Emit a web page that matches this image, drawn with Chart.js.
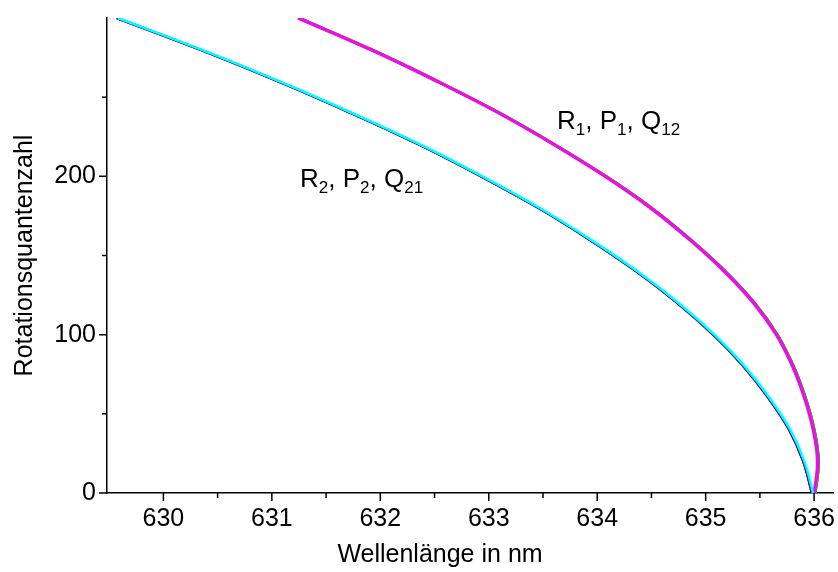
<!DOCTYPE html>
<html>
<head>
<meta charset="utf-8">
<script src="https://cdn.jsdelivr.net/npm/chart.js@4.4.1/dist/chart.umd.min.js"></script>
<style>
  html, body { margin: 0; padding: 0; background: #ffffff; }
  #wrap { width: 838px; height: 572px; position: relative; }
</style>
</head>
<body>
<div id="wrap"><canvas id="chart"></canvas></div>
<script>
// Rotational quantum number J at which line positions are listed
const rotJ = [0, 20, 40, 60, 80, 100, 120, 140, 160, 180, 200, 220, 240, 260, 280, 300];

// Wavelengths in nm, branch group 2 (R2, P2, Q21)
const lambdaR2  = [635.98, 635.90, 635.77, 635.58, 635.35, 635.07, 634.74, 634.36, 633.93, 633.46, 632.93, 632.36, 631.73, 631.06, 630.34, 629.57];
const lambdaP2  = [635.98, 635.90, 635.77, 635.58, 635.35, 635.07, 634.74, 634.36, 633.93, 633.46, 632.93, 632.36, 631.73, 631.06, 630.34, 629.57];
const lambdaQ21 = [635.99, 635.91, 635.78, 635.59, 635.36, 635.08, 634.75, 634.37, 633.94, 633.47, 632.94, 632.37, 631.74, 631.07, 630.35, 629.58];

// Wavelengths in nm, branch group 1 (R1, P1, Q12)
const lambdaR1  = [636.01, 636.04, 636.00, 635.92, 635.81, 635.66, 635.45, 635.18, 634.86, 634.50, 634.08, 633.61, 633.10, 632.53, 631.92, 631.25];
const lambdaP1  = [636.01, 636.04, 636.00, 635.92, 635.81, 635.66, 635.45, 635.18, 634.86, 634.50, 634.08, 633.61, 633.10, 632.53, 631.92, 631.25];
const lambdaQ12 = [636.00, 636.03, 635.99, 635.91, 635.80, 635.65, 635.44, 635.17, 634.85, 634.49, 634.07, 633.60, 633.09, 632.52, 631.91, 631.24];

// Axis ticks
const xMajorTicks = [630, 631, 632, 633, 634, 635, 636];
const xMinorTicks = [630.5, 631.5, 632.5, 633.5, 634.5, 635.5];
const yMajorTicks = [0, 100, 200];
const yMinorTicks = [50, 150, 250];

// Axis titles
const xTitle = 'Wellenlänge in nm';
const yTitle = 'Rotationsquantenzahl';

// Branch labels: [text, isSubscript]
const labelGroup2 = [['R', 0], ['2', 1], [', P', 0], ['2', 1], [', Q', 0], ['21', 1]];
const labelGroup1 = [['R', 0], ['1', 1], [', P', 0], ['1', 1], [', Q', 0], ['12', 1]];

const FONT = "'Liberation Sans', Arial, Helvetica, sans-serif";

function toPoints(lambdas) {
  return lambdas.map((l, i) => ({ x: l, y: rotJ[i] }));
}

function branch(label, lambdas, color, width, order) {
  return {
    label: label,
    data: toPoints(lambdas),
    showLine: true,
    borderColor: color,
    backgroundColor: color,
    borderWidth: width,
    pointRadius: 0,
    tension: 0.4,
    fill: false,
    order: order
  };
}

// Tick marks (major and minor), the x-axis title and the subscripted branch labels
const decorations = {
  id: 'decorations',
  afterDraw(chart) {
    const { ctx, scales: { x, y } } = chart;
    ctx.save();
    ctx.strokeStyle = '#000';
    ctx.lineWidth = 1.5;
    const axisY = y.getPixelForValue(0);
    const axisX = x.left;
    ctx.beginPath();
    xMajorTicks.forEach(v => { const px = x.getPixelForValue(v); ctx.moveTo(px, axisY); ctx.lineTo(px, axisY + 8); });
    xMinorTicks.forEach(v => { const px = x.getPixelForValue(v); ctx.moveTo(px, axisY); ctx.lineTo(px, axisY + 5); });
    yMajorTicks.forEach(v => { const py = y.getPixelForValue(v); ctx.moveTo(axisX, py); ctx.lineTo(axisX - 8, py); });
    yMinorTicks.forEach(v => { const py = y.getPixelForValue(v); ctx.moveTo(axisX, py); ctx.lineTo(axisX - 5, py); });
    ctx.stroke();

    // x-axis title, centred below the 632.5 nm region
    ctx.fillStyle = '#000';
    ctx.font = `25px ${FONT}`;
    ctx.textAlign = 'center';
    ctx.textBaseline = 'middle';
    ctx.fillText(xTitle, 440, chart.height - 17);

    const drawLabel = (parts, lx, ly) => {
      let px = x.getPixelForValue(lx);
      const py = y.getPixelForValue(ly);
      ctx.textBaseline = 'alphabetic';
      ctx.textAlign = 'left';
      parts.forEach(([t, sub]) => {
        ctx.font = sub ? `17px ${FONT}` : `26px ${FONT}`;
        ctx.fillText(t, px, sub ? py + 6 : py);
        px += ctx.measureText(t).width;
      });
    };
    drawLabel(labelGroup2, 631.26, 193);
    drawLabel(labelGroup1, 633.63, 230);
    ctx.restore();
  }
};

new Chart(document.getElementById('chart'), {
  type: 'scatter',
  data: {
    datasets: [
      branch('Q21', lambdaQ21, '#00ffff', 2.5, 0),
      branch('P2',  lambdaP2,  '#1a1acc', 2.5, 1),
      branch('R2',  lambdaR2,  '#000000', 2.5, 2),
      branch('Q12', lambdaQ12, '#ff00ff', 3, 0),
      branch('P1',  lambdaP1,  '#22aa22', 3, 1),
      branch('R1',  lambdaR1,  '#ff0000', 3, 2)
    ]
  },
  options: {
    responsive: true,
    maintainAspectRatio: false,
    animation: false,
    events: [],
    layout: { padding: { left: 0, top: 13, right: 1, bottom: 0 } },
    plugins: { legend: { display: false }, tooltip: { enabled: false } },
    scales: {
      x: {
        type: 'linear',
        min: 629.48,
        max: 636.18,
        afterBuildTicks: s => { s.ticks = xMajorTicks.map(v => ({ value: v })); },
        afterFit: s => { s.height = 79; },
        grid: { display: false, drawTicks: true, tickLength: 8 },
        border: { display: true, color: '#000', width: 1.5 },
        ticks: { color: '#000', font: { family: FONT, size: 25 }, padding: 3, maxRotation: 0, autoSkip: false },
        title: { display: false }
      },
      y: {
        type: 'linear',
        min: 0,
        max: 300,
        afterBuildTicks: s => { s.ticks = yMajorTicks.map(v => ({ value: v })); },
        afterFit: s => { s.width = 107; },
        grid: { display: false, drawTicks: true, tickLength: 8 },
        border: { display: true, color: '#000', width: 1.5 },
        ticks: { color: '#000', font: { family: FONT, size: 25 }, padding: 3, autoSkip: false },
        title: { display: true, text: yTitle, color: '#000', font: { family: FONT, size: 25 }, padding: { top: 10, bottom: 0 } }
      }
    }
  },
  plugins: [decorations]
});
</script>
</body>
</html>
